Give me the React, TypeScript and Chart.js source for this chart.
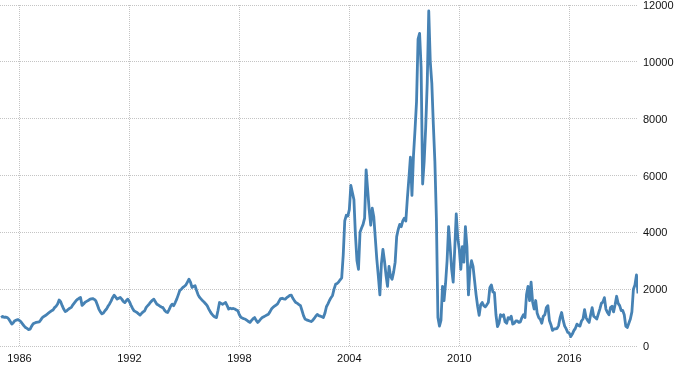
import React, { useEffect, useRef } from "react";
import { Chart, registerables } from "chart.js";

Chart.register(...registerables);

// Monthly index values, starting January 1985
const startYear = 1985;

const bdi1985to1989 = [
  1000, 1040, 1010, 1020, 1000, 950, 860, 770, 820, 890, 910, 930,
  900, 850, 780, 710, 650, 620, 580, 590, 700, 780, 810, 830,
  840, 850, 920, 1000, 1040, 1070, 1110, 1160, 1200, 1240, 1270, 1350,
  1400, 1480, 1620, 1560, 1420, 1300, 1210, 1240, 1290, 1330, 1360, 1450,
  1520, 1590, 1640, 1680, 1710, 1430, 1480, 1540, 1570, 1600, 1640, 1660,
];
const bdi1990to1994 = [
  1670, 1640, 1590, 1450, 1300, 1200, 1130, 1160, 1240, 1300, 1400, 1480,
  1580, 1700, 1790, 1720, 1650, 1680, 1710, 1650, 1570, 1530, 1600, 1650,
  1560, 1440, 1330, 1240, 1210, 1180, 1130, 1090, 1150, 1200, 1240, 1360,
  1420, 1480, 1550, 1610, 1650, 1560, 1470, 1440, 1400, 1370, 1350, 1260,
  1200, 1180, 1280, 1400, 1470, 1420, 1530, 1650, 1800, 1950, 2000, 2060,
];
const bdi1995to1999 = [
  2100, 2150, 2250, 2350, 2250, 2060, 2100, 2120, 1950, 1800, 1710, 1650,
  1590, 1540, 1480, 1410, 1300, 1200, 1120, 1060, 1020, 1000, 1250, 1530,
  1500, 1470, 1500, 1530, 1420, 1300, 1330, 1310, 1320, 1300, 1270, 1240,
  1100, 1010, 980, 960, 940, 900, 860, 830, 900, 960, 1000, 900,
  830, 880, 950, 1000, 1030, 1060, 1090, 1120, 1200, 1300, 1360, 1400,
];
const bdi2000to2004 = [
  1440, 1480, 1580, 1670, 1680, 1660, 1650, 1700, 1740, 1780, 1790, 1680,
  1600, 1530, 1500, 1460, 1420, 1250, 1070, 950, 920, 900, 880, 860,
  900, 970, 1050, 1110, 1070, 1050, 1030, 1000, 1150, 1380, 1480, 1600,
  1700, 1780, 2000, 2170, 2200, 2250, 2330, 2400, 3200, 4400, 4600, 4570,
  4800, 5650, 5400, 5150, 3900, 3000, 2700, 4000, 4150, 4280, 4500, 6200,
];
const bdi2005to2009 = [
  5500, 4800, 4250, 4850, 4550, 3800, 3050, 2450, 1800, 2900, 3400, 3000,
  2500, 2100, 2800, 2450, 2350, 2600, 2950, 3850, 4100, 4280, 4200, 4400,
  4500, 4400, 5200, 5900, 6650, 5300, 6700, 7600, 8600, 10800, 11000, 9800,
  5700, 6500, 7700, 9250, 11790, 10000, 9250, 7800, 6500, 4500, 1000, 700,
  900, 2100, 1600, 2200, 3000, 4200, 3500, 2700, 2250, 3400, 4650, 3800,
];
const bdi2010to2014 = [
  3400, 2700, 3500, 2950, 4200, 3500, 1800, 2700, 3000, 2800, 2300, 1800,
  1400, 1080, 1450, 1530, 1420, 1380, 1450, 1530, 2050, 2150, 1900, 1880,
  1100, 680, 800, 1100, 1050, 1100, 850, 800, 1000, 950, 1050, 770,
  800, 880, 880, 830, 850, 1000, 1100, 1000, 1800, 2100, 1600, 2250,
  1550, 1300, 1600, 1150, 1000, 940, 800, 1050, 1100, 1350, 1420, 900,
];
const bdi2015to2019 = [
  750, 550, 600, 600, 620, 720, 1000, 1180, 900, 700, 600, 480,
  450, 330, 420, 540, 620, 770, 720, 700, 880, 950, 1280, 1000,
  900, 830, 1100, 1350, 1050, 1000, 950, 1120, 1300, 1500, 1550, 1700,
  1300, 1180, 1100, 1350, 1400, 1200, 1450, 1750, 1500, 1420, 1250, 1250,
  1100, 700, 650, 800, 950, 1200, 2000, 2150, 2500, 1850,
];

const yearTicks = [1986, 1992, 1998, 2004, 2010, 2016];
const valueTicks = [0, 2000, 4000, 6000, 8000, 10000, 12000];
const xMin = 1984.94;
const xMax = 2019.75;

const allValues = [
  ...bdi1985to1989,
  ...bdi1990to1994,
  ...bdi1995to1999,
  ...bdi2000to2004,
  ...bdi2005to2009,
  ...bdi2010to2014,
  ...bdi2015to2019,
];

const points = allValues.map((v, i) => ({ x: startYear + i / 12, y: v }));

const tickFont = { family: "'Liberation Sans', Arial, sans-serif", size: 11 };
const tickColor = "#111111";
const gridColor = "#c4c4c4";

export default function App() {
  const ref = useRef<HTMLCanvasElement>(null);

  useEffect(() => {
    if (!ref.current) return;
    const chart = new Chart(ref.current, {
      type: "line",
      data: {
        datasets: [
          {
            data: points,
            borderColor: "#4682b4",
            backgroundColor: "#4682b4",
            borderWidth: 2.8,
            borderJoinStyle: "round",
            pointRadius: 0,
            tension: 0,
            fill: false,
          },
        ],
      },
      options: {
        animation: false,
        responsive: false,
        maintainAspectRatio: false,
        layout: { padding: { top: 5, left: 0, right: 0, bottom: 0 } },
        plugins: {
          legend: { display: false },
          tooltip: { enabled: false },
        },
        scales: {
          x: {
            type: "linear",
            min: xMin,
            max: xMax,
            afterBuildTicks: (s: any) => {
              s.ticks = yearTicks.map((v) => ({ value: v }));
            },
            afterFit: (s: any) => {
              s.height = 27;
              s.paddingLeft = 0;
              s.paddingRight = 0;
            },
            grid: { color: gridColor, lineWidth: 1, drawTicks: false },
            border: { display: false, dash: [1, 1] },
            ticks: {
              padding: 6,
              font: tickFont,
              color: tickColor,
              maxRotation: 0,
              autoSkip: false,
              callback: (v: any) => String(v),
            },
          },
          y: {
            position: "right",
            min: 0,
            max: 12000,
            afterBuildTicks: (s: any) => {
              s.ticks = valueTicks.map((v) => ({ value: v }));
            },
            afterFit: (s: any) => {
              s.width = 52;
              s.paddingTop = 0;
              s.paddingBottom = 0;
            },
            grid: { color: gridColor, lineWidth: 1, drawTicks: false },
            border: { display: false, dash: [1, 1] },
            ticks: {
              padding: 5,
              labelOffset: 1,
              font: tickFont,
              color: tickColor,
              callback: (v: any) => String(v),
            },
          },
        },
      },
    } as any);
    return () => chart.destroy();
  }, []);

  return (
    <div
      style={{
        position: "absolute",
        left: 0,
        top: 0,
        width: 690,
        height: 373,
        background: "#ffffff",
      }}
    >
      <canvas
        ref={ref}
        width={690}
        height={373}
        style={{ display: "block", width: 690, height: 373 }}
      />
    </div>
  );
}
